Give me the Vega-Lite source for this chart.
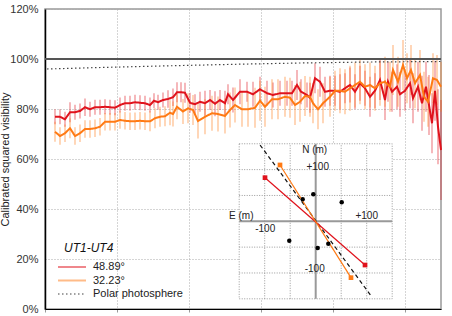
{
  "$schema": "https://vega.github.io/schema/vega-lite/v6.json",
  "width": 396,
  "height": 300,
  "autosize": {"type": "none"},
  "padding": {"left": 45, "top": 9, "right": 11, "bottom": 7},
  "background": "white",
  "config": {
    "view": {"stroke": "#999", "strokeWidth": 1.5},
    "font": "Liberation Sans",
    "axis": {"labelFont": "Liberation Sans", "titleFont": "Liberation Sans"},
    "legend": {"labelFont": "Liberation Sans", "titleFont": "Liberation Sans"}
  },
  "datasets": {
    "vis": [
      {"x":10,"v":76.9,"lo":73.9,"hi":79.9,"s":"48.89°"},
      {"x":15,"v":76.9,"lo":73.9,"hi":79.9,"s":"48.89°"},
      {"x":20,"v":75.9,"lo":72.9,"hi":78.9,"s":"48.89°"},
      {"x":25,"v":78.7,"lo":74.7,"hi":82.7,"s":"48.89°"},
      {"x":30,"v":78.7,"lo":75.7,"hi":81.7,"s":"48.89°"},
      {"x":35,"v":79.2,"lo":76.2,"hi":82.2,"s":"48.89°"},
      {"x":40,"v":80.7,"lo":77.2,"hi":84.2,"s":"48.89°"},
      {"x":45,"v":79.9,"lo":76.9,"hi":82.9,"s":"48.89°"},
      {"x":50,"v":80.7,"lo":77.7,"hi":83.7,"s":"48.89°"},
      {"x":55,"v":80.7,"lo":77.7,"hi":83.7,"s":"48.89°"},
      {"x":60,"v":80.9,"lo":77.9,"hi":83.9,"s":"48.89°"},
      {"x":65,"v":80.7,"lo":77.7,"hi":83.7,"s":"48.89°"},
      {"x":70,"v":80.5,"lo":77.5,"hi":83.5,"s":"48.89°"},
      {"x":75,"v":81.6,"lo":78.6,"hi":84.6,"s":"48.89°"},
      {"x":80,"v":82.3,"lo":79.3,"hi":85.3,"s":"48.89°"},
      {"x":85,"v":82.3,"lo":79.3,"hi":85.3,"s":"48.89°"},
      {"x":90,"v":82.7,"lo":79.7,"hi":85.7,"s":"48.89°"},
      {"x":95,"v":82.5,"lo":79.5,"hi":85.5,"s":"48.89°"},
      {"x":100,"v":82.3,"lo":79.3,"hi":85.3,"s":"48.89°"},
      {"x":105,"v":81.6,"lo":78.6,"hi":84.6,"s":"48.89°"},
      {"x":109,"v":83.3,"lo":80.3,"hi":86.3,"s":"48.89°"},
      {"x":113,"v":82.7,"lo":79.7,"hi":85.7,"s":"48.89°"},
      {"x":118,"v":83.6,"lo":80.6,"hi":86.6,"s":"48.89°"},
      {"x":123,"v":84.0,"lo":80.5,"hi":87.5,"s":"48.89°"},
      {"x":128,"v":84.7,"lo":81.2,"hi":88.2,"s":"48.89°"},
      {"x":132,"v":86.7,"lo":82.7,"hi":90.7,"s":"48.89°"},
      {"x":136,"v":86.7,"lo":82.7,"hi":90.7,"s":"48.89°"},
      {"x":140,"v":86.5,"lo":82.5,"hi":90.5,"s":"48.89°"},
      {"x":145,"v":82.5,"lo":78.5,"hi":86.5,"s":"48.89°"},
      {"x":150,"v":81.9,"lo":77.9,"hi":85.9,"s":"48.89°"},
      {"x":155,"v":82.9,"lo":78.9,"hi":86.9,"s":"48.89°"},
      {"x":160,"v":82.3,"lo":77.3,"hi":87.3,"s":"48.89°"},
      {"x":165,"v":83.6,"lo":79.6,"hi":87.6,"s":"48.89°"},
      {"x":170,"v":82.1,"lo":77.1,"hi":87.1,"s":"48.89°"},
      {"x":175,"v":83.6,"lo":79.6,"hi":87.6,"s":"48.89°"},
      {"x":180,"v":82.3,"lo":77.3,"hi":87.3,"s":"48.89°"},
      {"x":183,"v":85.9,"lo":81.9,"hi":89.9,"s":"48.89°"},
      {"x":188,"v":83.6,"lo":78.6,"hi":88.6,"s":"48.89°"},
      {"x":195,"v":86.9,"lo":81.9,"hi":91.9,"s":"48.89°"},
      {"x":202,"v":86.9,"lo":82.9,"hi":90.9,"s":"48.89°"},
      {"x":208,"v":85.9,"lo":80.9,"hi":90.9,"s":"48.89°"},
      {"x":215,"v":87.9,"lo":82.9,"hi":92.9,"s":"48.89°"},
      {"x":222,"v":86.3,"lo":81.3,"hi":91.3,"s":"48.89°"},
      {"x":228,"v":85.6,"lo":80.6,"hi":90.6,"s":"48.89°"},
      {"x":235,"v":86.3,"lo":81.3,"hi":91.3,"s":"48.89°"},
      {"x":242,"v":86.3,"lo":81.3,"hi":91.3,"s":"48.89°"},
      {"x":247,"v":86.3,"lo":81.3,"hi":91.3,"s":"48.89°"},
      {"x":252,"v":89.6,"lo":83.6,"hi":95.6,"s":"48.89°"},
      {"x":256,"v":86.9,"lo":81.9,"hi":91.9,"s":"48.89°"},
      {"x":262,"v":85.6,"lo":80.6,"hi":90.6,"s":"48.89°"},
      {"x":265,"v":84.5,"lo":78.5,"hi":90.5,"s":"48.89°"},
      {"x":270,"v":92.3,"lo":86.3,"hi":98.3,"s":"48.89°"},
      {"x":275,"v":90.9,"lo":84.9,"hi":96.9,"s":"48.89°"},
      {"x":280,"v":86.9,"lo":80.9,"hi":92.9,"s":"48.89°"},
      {"x":285,"v":87.3,"lo":81.3,"hi":93.3,"s":"48.89°"},
      {"x":290,"v":87.3,"lo":81.3,"hi":93.3,"s":"48.89°"},
      {"x":295,"v":86.9,"lo":79.9,"hi":93.9,"s":"48.89°"},
      {"x":300,"v":88.3,"lo":82.3,"hi":94.3,"s":"48.89°"},
      {"x":305,"v":89.6,"lo":82.6,"hi":96.6,"s":"48.89°"},
      {"x":310,"v":86.9,"lo":79.9,"hi":93.9,"s":"48.89°"},
      {"x":315,"v":90.3,"lo":83.3,"hi":97.3,"s":"48.89°"},
      {"x":320,"v":88.3,"lo":81.3,"hi":95.3,"s":"48.89°"},
      {"x":325,"v":84.9,"lo":76.9,"hi":92.9,"s":"48.89°"},
      {"x":330,"v":87.3,"lo":80.3,"hi":94.3,"s":"48.89°"},
      {"x":335,"v":91.6,"lo":83.6,"hi":99.6,"s":"48.89°"},
      {"x":340,"v":83.6,"lo":75.6,"hi":91.6,"s":"48.89°"},
      {"x":343,"v":90.9,"lo":82.9,"hi":98.9,"s":"48.89°"},
      {"x":347,"v":86.9,"lo":78.9,"hi":94.9,"s":"48.89°"},
      {"x":352,"v":88.9,"lo":79.9,"hi":97.9,"s":"48.89°"},
      {"x":355,"v":85.9,"lo":76.9,"hi":94.9,"s":"48.89°"},
      {"x":360,"v":87.3,"lo":79.3,"hi":95.3,"s":"48.89°"},
      {"x":365,"v":90.3,"lo":80.3,"hi":100.3,"s":"48.89°"},
      {"x":368,"v":84.3,"lo":74.3,"hi":94.3,"s":"48.89°"},
      {"x":373,"v":88.9,"lo":78.9,"hi":98.9,"s":"48.89°"},
      {"x":377,"v":82.3,"lo":71.3,"hi":93.3,"s":"48.89°"},
      {"x":381,"v":88.9,"lo":78.9,"hi":98.9,"s":"48.89°"},
      {"x":384,"v":81.6,"lo":69.6,"hi":93.6,"s":"48.89°"},
      {"x":387,"v":74.3,"lo":62.3,"hi":86.3,"s":"48.89°"},
      {"x":390,"v":87.3,"lo":75.3,"hi":99.3,"s":"48.89°"},
      {"x":393,"v":72.9,"lo":57.9,"hi":87.9,"s":"48.89°"},
      {"x":396,"v":63.6,"lo":43.6,"hi":83.6,"s":"48.89°"},
      {"x":10,"v":70.9,"lo":66.9,"hi":74.9,"s":"32.23°"},
      {"x":15,"v":69.2,"lo":65.7,"hi":72.7,"s":"32.23°"},
      {"x":20,"v":70.3,"lo":66.8,"hi":73.8,"s":"32.23°"},
      {"x":25,"v":72.3,"lo":68.3,"hi":76.3,"s":"32.23°"},
      {"x":30,"v":69.2,"lo":65.7,"hi":72.7,"s":"32.23°"},
      {"x":35,"v":70.3,"lo":66.8,"hi":73.8,"s":"32.23°"},
      {"x":40,"v":72.0,"lo":68.5,"hi":75.5,"s":"32.23°"},
      {"x":45,"v":72.0,"lo":68.5,"hi":75.5,"s":"32.23°"},
      {"x":50,"v":72.3,"lo":68.8,"hi":75.8,"s":"32.23°"},
      {"x":55,"v":72.9,"lo":69.4,"hi":76.4,"s":"32.23°"},
      {"x":60,"v":74.9,"lo":71.4,"hi":78.4,"s":"32.23°"},
      {"x":65,"v":74.9,"lo":71.4,"hi":78.4,"s":"32.23°"},
      {"x":70,"v":74.9,"lo":71.4,"hi":78.4,"s":"32.23°"},
      {"x":75,"v":75.6,"lo":72.1,"hi":79.1,"s":"32.23°"},
      {"x":80,"v":75.3,"lo":71.8,"hi":78.8,"s":"32.23°"},
      {"x":85,"v":75.1,"lo":71.6,"hi":78.6,"s":"32.23°"},
      {"x":90,"v":75.1,"lo":71.6,"hi":78.6,"s":"32.23°"},
      {"x":95,"v":75.3,"lo":71.8,"hi":78.8,"s":"32.23°"},
      {"x":100,"v":75.1,"lo":71.6,"hi":78.6,"s":"32.23°"},
      {"x":105,"v":75.1,"lo":71.1,"hi":79.1,"s":"32.23°"},
      {"x":110,"v":76.3,"lo":72.3,"hi":80.3,"s":"32.23°"},
      {"x":115,"v":76.9,"lo":72.9,"hi":80.9,"s":"32.23°"},
      {"x":120,"v":77.1,"lo":73.1,"hi":81.1,"s":"32.23°"},
      {"x":125,"v":78.5,"lo":73.5,"hi":83.5,"s":"32.23°"},
      {"x":128,"v":78.0,"lo":73.0,"hi":83.0,"s":"32.23°"},
      {"x":132,"v":80.9,"lo":75.9,"hi":85.9,"s":"32.23°"},
      {"x":138,"v":79.0,"lo":74.0,"hi":84.0,"s":"32.23°"},
      {"x":143,"v":80.3,"lo":74.3,"hi":86.3,"s":"32.23°"},
      {"x":148,"v":79.6,"lo":73.6,"hi":85.6,"s":"32.23°"},
      {"x":153,"v":75.2,"lo":68.2,"hi":82.2,"s":"32.23°"},
      {"x":160,"v":76.9,"lo":69.9,"hi":83.9,"s":"32.23°"},
      {"x":167,"v":78.3,"lo":71.3,"hi":85.3,"s":"32.23°"},
      {"x":173,"v":78.0,"lo":71.0,"hi":85.0,"s":"32.23°"},
      {"x":180,"v":77.2,"lo":70.2,"hi":84.2,"s":"32.23°"},
      {"x":185,"v":79.6,"lo":72.6,"hi":86.6,"s":"32.23°"},
      {"x":190,"v":81.6,"lo":74.6,"hi":88.6,"s":"32.23°"},
      {"x":197,"v":79.9,"lo":72.9,"hi":86.9,"s":"32.23°"},
      {"x":203,"v":79.9,"lo":72.9,"hi":86.9,"s":"32.23°"},
      {"x":210,"v":80.5,"lo":72.5,"hi":88.5,"s":"32.23°"},
      {"x":215,"v":83.3,"lo":75.3,"hi":91.3,"s":"32.23°"},
      {"x":220,"v":80.9,"lo":72.9,"hi":88.9,"s":"32.23°"},
      {"x":227,"v":83.9,"lo":75.9,"hi":91.9,"s":"32.23°"},
      {"x":233,"v":83.9,"lo":75.9,"hi":91.9,"s":"32.23°"},
      {"x":240,"v":84.9,"lo":76.9,"hi":92.9,"s":"32.23°"},
      {"x":245,"v":84.5,"lo":76.5,"hi":92.5,"s":"32.23°"},
      {"x":250,"v":81.6,"lo":73.6,"hi":89.6,"s":"32.23°"},
      {"x":255,"v":82.9,"lo":74.9,"hi":90.9,"s":"32.23°"},
      {"x":260,"v":85.2,"lo":77.2,"hi":93.2,"s":"32.23°"},
      {"x":265,"v":84.9,"lo":76.9,"hi":92.9,"s":"32.23°"},
      {"x":268,"v":82.3,"lo":74.3,"hi":90.3,"s":"32.23°"},
      {"x":273,"v":79.9,"lo":71.9,"hi":87.9,"s":"32.23°"},
      {"x":278,"v":82.3,"lo":74.3,"hi":90.3,"s":"32.23°"},
      {"x":285,"v":84.9,"lo":76.9,"hi":92.9,"s":"32.23°"},
      {"x":290,"v":87.3,"lo":79.3,"hi":95.3,"s":"32.23°"},
      {"x":295,"v":87.3,"lo":78.3,"hi":96.3,"s":"32.23°"},
      {"x":300,"v":86.9,"lo":77.9,"hi":95.9,"s":"32.23°"},
      {"x":305,"v":88.3,"lo":79.3,"hi":97.3,"s":"32.23°"},
      {"x":310,"v":89.6,"lo":80.6,"hi":98.6,"s":"32.23°"},
      {"x":315,"v":90.9,"lo":81.9,"hi":99.9,"s":"32.23°"},
      {"x":320,"v":88.9,"lo":79.9,"hi":97.9,"s":"32.23°"},
      {"x":325,"v":89.6,"lo":80.6,"hi":98.6,"s":"32.23°"},
      {"x":330,"v":88.3,"lo":79.3,"hi":97.3,"s":"32.23°"},
      {"x":335,"v":90.3,"lo":81.3,"hi":99.3,"s":"32.23°"},
      {"x":340,"v":90.9,"lo":80.9,"hi":100.9,"s":"32.23°"},
      {"x":345,"v":88.9,"lo":78.9,"hi":98.9,"s":"32.23°"},
      {"x":348,"v":95.6,"lo":85.6,"hi":105.6,"s":"32.23°"},
      {"x":353,"v":90.9,"lo":80.9,"hi":100.9,"s":"32.23°"},
      {"x":358,"v":97.6,"lo":87.6,"hi":107.6,"s":"32.23°"},
      {"x":362,"v":92.3,"lo":82.3,"hi":102.3,"s":"32.23°"},
      {"x":366,"v":95.6,"lo":85.6,"hi":105.6,"s":"32.23°"},
      {"x":370,"v":90.3,"lo":80.3,"hi":100.3,"s":"32.23°"},
      {"x":375,"v":93.6,"lo":83.6,"hi":103.6,"s":"32.23°"},
      {"x":379,"v":84.9,"lo":74.9,"hi":94.9,"s":"32.23°"},
      {"x":383,"v":82.9,"lo":72.9,"hi":92.9,"s":"32.23°"},
      {"x":388,"v":92.3,"lo":82.3,"hi":102.3,"s":"32.23°"},
      {"x":392,"v":91.6,"lo":81.6,"hi":101.6,"s":"32.23°"},
      {"x":396,"v":88.9,"lo":78.9,"hi":98.9,"s":"32.23°"}
    ],
    "polar": [
      {"x":2,"v":96.0,"s":"Polar photosphere"},
      {"x":55,"v":96.6,"s":"Polar photosphere"},
      {"x":105,"v":97.1,"s":"Polar photosphere"},
      {"x":192,"v":97.9,"s":"Polar photosphere"},
      {"x":255,"v":98.4,"s":"Polar photosphere"},
      {"x":325,"v":98.8,"s":"Polar photosphere"},
      {"x":396,"v":99.0,"s":"Polar photosphere"}
    ]
  },
  "resolve": {"scale": {"x": "independent", "y": "independent"}},
  "layer": [
    {
      "layer": [
        {
          "data": {"name": "vis"},
          "mark": {"type": "rule", "strokeWidth": 1.2, "opacity": 0.5},
          "encoding": {
            "x": {"field": "x", "type": "quantitative"},
            "y": {"field": "lo", "type": "quantitative"},
            "y2": {"field": "hi"},
            "color": {"field": "s", "type": "nominal", "title": "UT1-UT4"},
            "strokeDash": {"field": "s", "type": "nominal", "title": "UT1-UT4"}
          }
        },
        {
          "data": {"values": [{"y": 100}]},
          "mark": {"type": "rule", "color": "#555", "strokeWidth": 2},
          "encoding": {"y": {"field": "y", "type": "quantitative"}}
        },
        {
          "data": {"name": "polar"},
          "mark": {"type": "line", "strokeWidth": 1.2},
          "encoding": {
            "x": {"field": "x", "type": "quantitative"},
            "y": {"field": "v", "type": "quantitative"},
            "color": {"field": "s", "type": "nominal", "title": "UT1-UT4"},
            "strokeDash": {"field": "s", "type": "nominal", "title": "UT1-UT4"}
          }
        },
        {
          "data": {"name": "vis"},
          "mark": {"type": "line", "strokeWidth": 2},
          "encoding": {
            "x": {"field": "x", "type": "quantitative",
              "scale": {"domain": [0, 396], "nice": false, "zero": false},
              "axis": {"values": [0,36,72,108,144,180,216,252,288,324,360,396], "labels": false, "ticks": true, "tickSize": 3, "tickColor": "#999", "title": null, "grid": true, "gridDash": [1, 2], "gridColor": "#aaa", "domainColor": "#000", "domainWidth": 1.2}},
            "y": {"field": "v", "type": "quantitative",
              "scale": {"domain": [0, 120], "nice": false, "zero": false},
              "axis": {"values": [0,20,40,60,80,100,120], "labelExpr": "datum.value + '%'", "ticks": false, "labelPadding": 7, "labelFontSize": 11, "labelColor": "#333", "title": "Calibrated squared visibility", "titleFontSize": 11, "titleFontWeight": "normal", "titleColor": "#222", "titlePadding": -1, "grid": true, "gridDash": [1, 2], "gridColor": "#aaa", "domainColor": "#000", "domainWidth": 1.5}},
            "color": {"field": "s", "type": "nominal", "title": "UT1-UT4",
              "scale": {"domain": ["48.89°", "32.23°", "Polar photosphere"], "range": ["#e0121c", "#ff7a14", "#444"]},
              "legend": {"orient": "none", "legendX": 19, "legendY": 234, "titleFontStyle": "italic", "titleFontWeight": "normal", "titleFontSize": 12, "titleColor": "#111", "titlePadding": 4, "labelFontSize": 11, "labelColor": "#222", "symbolType": "M-2,0H2", "symbolSize": 196, "symbolStrokeWidth": 2, "symbolOpacity": 1, "rowPadding": 0.5, "labelOffset": 13}},
            "strokeDash": {"field": "s", "type": "nominal", "title": "UT1-UT4",
              "scale": {"domain": ["48.89°", "32.23°", "Polar photosphere"], "range": [[1, 0], [1, 0], [1.5, 2.5]]}}
          }
        }
      ]
    },
    {
      "layer": [
        {
          "data": {"values": [{"a": -150, "b": 150}]},
          "mark": {"type": "rect", "fill": "white", "stroke": "#999", "strokeDash": [1, 1.5], "strokeWidth": 1},
          "encoding": {
            "x": {"field": "a", "type": "quantitative", "scale": {"domain": [-530.8, 245.7], "nice": false, "zero": false}, "axis": null},
            "x2": {"field": "b"},
            "y": {"field": "a", "type": "quantitative", "scale": {"domain": [-169.7, 410.8], "nice": false, "zero": false}, "axis": null},
            "y2": {"field": "b"}
          }
        },
        {
          "data": {"values": [{"p": -100}, {"p": -50}, {"p": 50}, {"p": 100}]},
          "mark": {"type": "rule", "stroke": "#999", "strokeDash": [1, 1.5], "strokeWidth": 1},
          "encoding": {
            "x": {"field": "p", "type": "quantitative"},
            "y": {"datum": -150, "type": "quantitative"},
            "y2": {"datum": 150}
          }
        },
        {
          "data": {"values": [{"p": -100}, {"p": -50}, {"p": 50}, {"p": 100}]},
          "mark": {"type": "rule", "stroke": "#999", "strokeDash": [1, 1.5], "strokeWidth": 1},
          "encoding": {
            "y": {"field": "p", "type": "quantitative"},
            "x": {"datum": -150, "type": "quantitative"},
            "x2": {"datum": 150}
          }
        },
        {
          "data": {"values": [{"p": 0}]},
          "mark": {"type": "rule", "stroke": "#999", "strokeWidth": 2},
          "encoding": {
            "x": {"field": "p", "type": "quantitative"},
            "y": {"datum": -150, "type": "quantitative"},
            "y2": {"datum": 150}
          }
        },
        {
          "data": {"values": [{"p": 0}]},
          "mark": {"type": "rule", "stroke": "#999", "strokeWidth": 2},
          "encoding": {
            "y": {"field": "p", "type": "quantitative"},
            "x": {"datum": -150, "type": "quantitative"},
            "x2": {"datum": 150}
          }
        },
        {
          "data": {"values": [
            {"t": "N (m)", "ex": -2, "ny": 138, "al": "right"},
            {"t": "+100", "ex": 4, "ny": 106, "al": "left"},
            {"t": "E (m)", "ex": -146, "ny": 11, "al": "left"},
            {"t": "+100", "ex": 100, "ny": 11, "al": "center"},
            {"t": "-100", "ex": -99, "ny": -15, "al": "center"},
            {"t": "-100", "ex": -2, "ny": -93, "al": "right"}
          ]},
          "mark": {"type": "text", "fontSize": 10, "color": "#222", "baseline": "middle"},
          "encoding": {
            "x": {"field": "ex", "type": "quantitative"},
            "y": {"field": "ny", "type": "quantitative"},
            "text": {"field": "t"},
            "align": {"field": "al", "type": "nominal", "scale": null}
          }
        },
        {
          "data": {"values": [{"ex": -109, "ny": 147.6}, {"ex": 109.8, "ny": -145.9}]},
          "mark": {"type": "line", "color": "#111", "strokeDash": [4, 3], "strokeWidth": 1.2},
          "encoding": {
            "x": {"field": "ex", "type": "quantitative"},
            "y": {"field": "ny", "type": "quantitative"}
          }
        },
        {
          "data": {"values": [{"ex": -99.4, "ny": 84.4}, {"ex": 96.7, "ny": -84.6}]},
          "mark": {"type": "line", "color": "#e0121c", "strokeWidth": 1.2, "point": {"shape": "square", "size": 22, "filled": true, "color": "#e0121c"}},
          "encoding": {
            "x": {"field": "ex", "type": "quantitative"},
            "y": {"field": "ny", "type": "quantitative"}
          }
        },
        {
          "data": {"values": [{"ex": -70, "ny": 109}, {"ex": 69.2, "ny": -109.1}]},
          "mark": {"type": "line", "color": "#ff7a14", "strokeWidth": 1.2, "point": {"shape": "square", "size": 22, "filled": true, "color": "#ff7a14"}},
          "encoding": {
            "x": {"field": "ex", "type": "quantitative"},
            "y": {"field": "ny", "type": "quantitative"}
          }
        },
        {
          "data": {"values": [
            {"ex": -25.5, "ny": 42.6}, {"ex": -4.7, "ny": 52.2}, {"ex": 51, "ny": 36.8},
            {"ex": -51.8, "ny": -37.5}, {"ex": 3.9, "ny": -51.7}, {"ex": 24.7, "ny": -43.3}
          ]},
          "mark": {"type": "circle", "color": "#000", "size": 20, "opacity": 1},
          "encoding": {
            "x": {"field": "ex", "type": "quantitative"},
            "y": {"field": "ny", "type": "quantitative"}
          }
        }
      ]
    }
  ]
}
